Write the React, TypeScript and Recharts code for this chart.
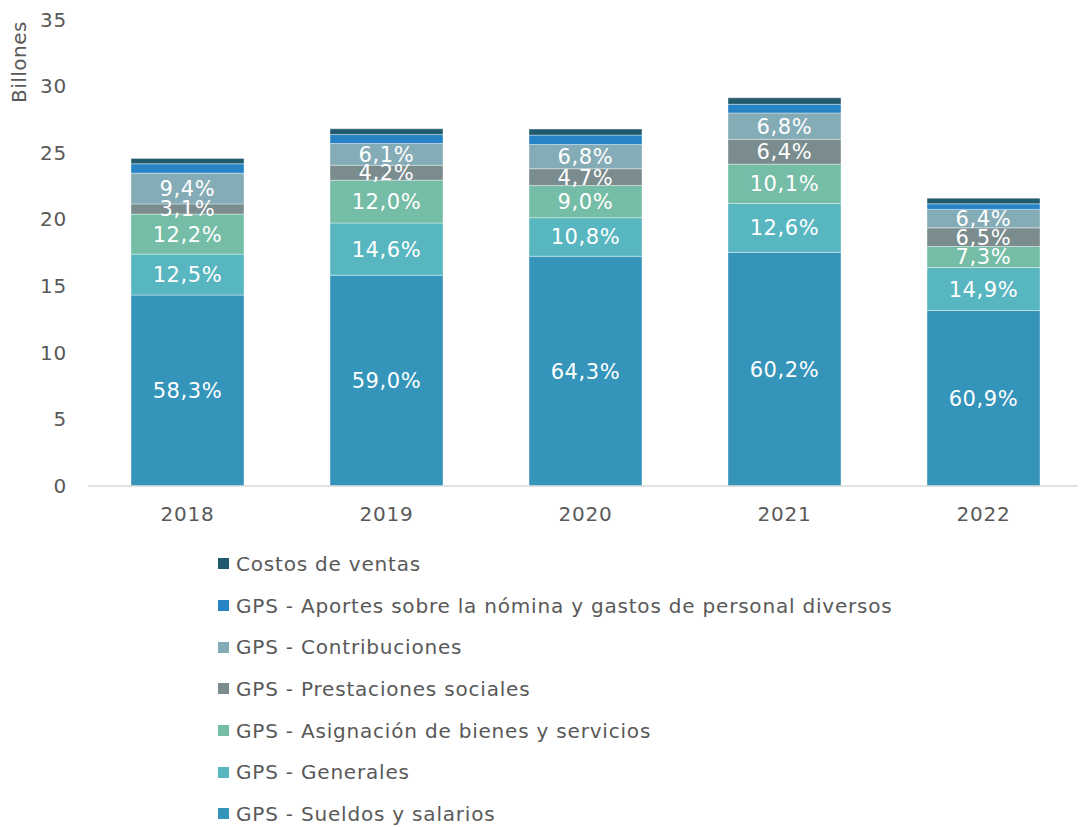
import React from 'react';
import { BarChart, Bar, XAxis, YAxis, LabelList } from 'recharts';

const years = ['2018', '2019', '2020', '2021', '2022'];

// valores en billones
const sueldos = [14.31, 15.8, 17.22, 17.51, 13.15];
const generales = [3.07, 3.91, 2.89, 3.67, 3.22];
const asignacion = [3.0, 3.21, 2.41, 2.94, 1.58];
const prestaciones = [0.76, 1.12, 1.26, 1.86, 1.4];
const contribuciones = [2.31, 1.63, 1.82, 1.98, 1.38];
const aportes = [0.7, 0.67, 0.7, 0.65, 0.42];
const costos = [0.4, 0.43, 0.45, 0.48, 0.42];

const sueldosPct = ['58,3%', '59,0%', '64,3%', '60,2%', '60,9%'];
const generalesPct = ['12,5%', '14,6%', '10,8%', '12,6%', '14,9%'];
const asignacionPct = ['12,2%', '12,0%', '9,0%', '10,1%', '7,3%'];
const prestacionesPct = ['3,1%', '4,2%', '4,7%', '6,4%', '6,5%'];
const contribucionesPct = ['9,4%', '6,1%', '6,8%', '6,8%', '6,4%'];

const yTicks = [0, 5, 10, 15, 20, 25, 30, 35];

const data = years.map((year, i) => ({
    year,
    sueldos: sueldos[i],
    generales: generales[i],
    asignacion: asignacion[i],
    prestaciones: prestaciones[i],
    contribuciones: contribuciones[i],
    aportes: aportes[i],
    costos: costos[i],
    sueldosPct: sueldosPct[i],
    generalesPct: generalesPct[i],
    asignacionPct: asignacionPct[i],
    prestacionesPct: prestacionesPct[i],
    contribucionesPct: contribucionesPct[i],
}));

type Serie = {
    key: string;
    name: string;
    color: string;
    label?: string;
};

const series: Serie[] = [
    { key: 'sueldos', name: 'GPS - Sueldos y salarios', color: '#3494BA', label: 'sueldosPct' },
    { key: 'generales', name: 'GPS - Generales', color: '#58B6C0', label: 'generalesPct' },
    { key: 'asignacion', name: 'GPS - Asignación de bienes y servicios', color: '#75BDA7', label: 'asignacionPct' },
    { key: 'prestaciones', name: 'GPS - Prestaciones sociales', color: '#7A8C8E', label: 'prestacionesPct' },
    { key: 'contribuciones', name: 'GPS - Contribuciones', color: '#84ACB6', label: 'contribucionesPct' },
    { key: 'aportes', name: 'GPS - Aportes sobre la nómina y gastos de personal diversos', color: '#2683C6' },
    { key: 'costos', name: 'Costos de ventas', color: '#215A6C' },
];

const font = '"DejaVu Sans", Verdana, sans-serif';
const textColor = '#595959';

const App = (): React.ReactElement => {
    return (
        <div style={{ position: 'relative', width: 1078, height: 819, fontFamily: font }}>
            <BarChart
                width={1078}
                height={530}
                data={data}
                margin={{ top: 11, right: 3, left: 0, bottom: 12 }}
                barSize={113}
            >
                <XAxis
                    dataKey='year'
                    height={40}
                    tickLine={false}
                    tickMargin={15}
                    axisLine={{ stroke: '#D9D9D9', strokeWidth: 1.5 }}
                    tick={{ fill: textColor, fontSize: 20, fontFamily: font, letterSpacing: 0.8 }}
                />
                <YAxis
                    width={80}
                    domain={[0, 35]}
                    ticks={yTicks}
                    axisLine={false}
                    tickLine={false}
                    tickMargin={15}
                    tick={{ fill: textColor, fontSize: 20, fontFamily: font, letterSpacing: 0.8 }}
                />
                {series.map((s) => (
                    <Bar
                        key={s.key}
                        dataKey={s.key}
                        name={s.name}
                        stackId='a'
                        fill={s.color}
                        stroke='#ffffff'
                        strokeOpacity={0.5}
                        strokeWidth={0.75}
                        isAnimationActive={false}
                    >
                        {s.label && (
                            <LabelList
                                dataKey={s.label}
                                position='center'
                                fill='#ffffff'
                                fontSize={21}
                                fontFamily={font}
                                letterSpacing={0.6}
                            />
                        )}
                    </Bar>
                ))}
            </BarChart>
            <div
                style={{
                    position: 'absolute',
                    left: -31,
                    top: 42,
                    transform: 'rotate(-90deg)',
                    transformOrigin: 'center',
                    width: 84,
                    textAlign: 'center',
                    fontSize: 20,
                    letterSpacing: 0.5,
                    color: textColor,
                }}
            >
                Billones
            </div>
            <div style={{ position: 'absolute', left: 210, top: 535 }}>
                {[...series].reverse().map((s) => (
                    <div
                        key={s.key}
                        style={{
                            display: 'flex',
                            alignItems: 'center',
                            height: 41.7,
                            fontSize: 20,
                            letterSpacing: 0.8,
                            color: textColor,
                            whiteSpace: 'nowrap',
                        }}
                    >
                        <span
                            style={{ display: 'inline-block', width: 11, height: 11, background: s.color, marginRight: 7 }}
                        />
                        {s.name}
                    </div>
                ))}
            </div>
        </div>
    );
};

export default App;
